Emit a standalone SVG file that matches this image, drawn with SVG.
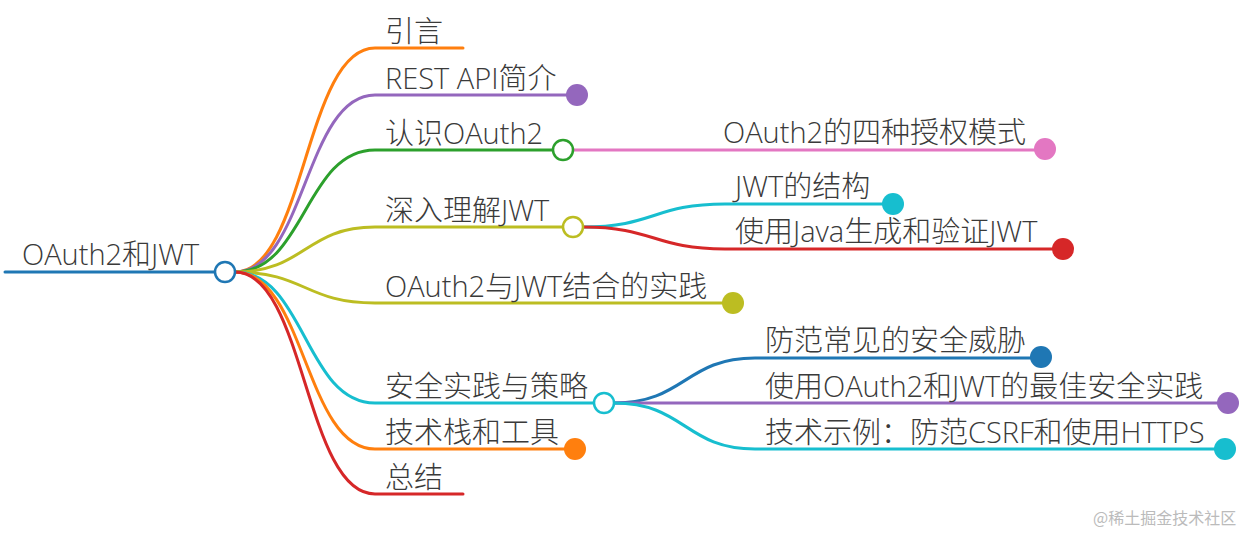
<svg xmlns="http://www.w3.org/2000/svg" width="1259" height="534" viewBox="0 0 1259 534">
<style>
.t{font-family:"Open Sans","Noto Sans CJK SC Light","Noto Sans CJK SC","Noto Sans",sans-serif;font-size:29px;font-weight:300;fill:#3a3a3a}
.c{fill:none;stroke-width:3;stroke-linecap:round}
.o{fill:#fff;stroke-width:2.5}
.wm{font-family:"Noto Sans CJK SC",sans-serif;font-size:16px;fill:#bbb}
</style>
<rect width="1259" height="534" fill="#fff"/>
<g id="connectors">
<path class="c" stroke="#1f77b4" d="M5,272 L215,272"/>
<path class="c" stroke="#ff7f0e" d="M235,272 C305,272 305,48 375,48 L463,48"/>
<path class="c" stroke="#9467bd" d="M235,272 C305,272 305,95 375,95 L577,95"/>
<path class="c" stroke="#2ca02c" d="M235,272 C305,272 305,150 375,150 L553,150"/>
<path class="c" stroke="#bcbd22" d="M235,272 C305,272 305,227 375,227 L563,227"/>
<path class="c" stroke="#bcbd22" d="M235,272 C305,272 305,303 375,303 L733,303"/>
<path class="c" stroke="#17becf" d="M235,272 C305,272 305,403 375,403 L594,403"/>
<path class="c" stroke="#ff7f0e" d="M235,272 C305,272 305,449 375,449 L575,449"/>
<path class="c" stroke="#d62728" d="M235,272 C305,272 305,494 375,494 L463,494"/>
<path class="c" stroke="#e377c2" d="M574,150 L1045,150"/>
<path class="c" stroke="#17becf" d="M583,227 C654,227 654,204 725,204 L893,204"/>
<path class="c" stroke="#d62728" d="M583,227 C654,227 654,249 725,249 L1063,249"/>
<path class="c" stroke="#1f77b4" d="M614,403 C685,403 685,358 755,358 L1041,358"/>
<path class="c" stroke="#9467bd" d="M614,403 L1228,403"/>
<path class="c" stroke="#17becf" d="M614,403 C685,403 685,449 755,449 L1225,449"/>
</g>
<g id="root"><text class="t" x="22" y="265">OAuth2和JWT</text><circle class="o" cx="225" cy="272" r="10" stroke="#1f77b4"/></g>
<g id="n1"><text class="t" x="385" y="42">引言</text></g>
<g id="n2"><text class="t" x="385" y="89">REST API简介</text><circle cx="577" cy="95" r="11" fill="#9467bd"/></g>
<g id="n3"><text class="t" x="385" y="144">认识OAuth2</text><circle class="o" cx="563" cy="150" r="10" stroke="#2ca02c"/></g>
<g id="n3a"><text class="t" x="723" y="143">OAuth2的四种授权模式</text><circle cx="1045" cy="149" r="11" fill="#e377c2"/></g>
<g id="n4"><text class="t" x="385" y="221">深入理解JWT</text><circle class="o" cx="573" cy="227" r="10" stroke="#bcbd22"/></g>
<g id="n4a"><text class="t" x="735" y="197">JWT的结构</text><circle cx="893" cy="204" r="11" fill="#17becf"/></g>
<g id="n4b"><text class="t" x="735" y="242">使用Java生成和验证JWT</text><circle cx="1063" cy="249" r="11" fill="#d62728"/></g>
<g id="n5"><text class="t" x="385" y="297">OAuth2与JWT结合的实践</text><circle cx="733" cy="303" r="11" fill="#bcbd22"/></g>
<g id="n6"><text class="t" x="385" y="397">安全实践与策略</text><circle class="o" cx="604" cy="403" r="10" stroke="#17becf"/></g>
<g id="n6a"><text class="t" x="765" y="351">防范常见的安全威胁</text><circle cx="1041" cy="357" r="11" fill="#1f77b4"/></g>
<g id="n6b"><text class="t" x="765" y="397">使用OAuth2和JWT的最佳安全实践</text><circle cx="1228" cy="403" r="11" fill="#9467bd"/></g>
<g id="n6c"><text class="t" x="765" y="443">技术示例：防范CSRF和使用HTTPS</text><circle cx="1225" cy="449" r="11" fill="#17becf"/></g>
<g id="n7"><text class="t" x="385" y="443">技术栈和工具</text><circle cx="575" cy="449" r="11" fill="#ff7f0e"/></g>
<g id="n8"><text class="t" x="385" y="488">总结</text></g>
<text class="wm" x="1093" y="524">@稀土掘金技术社区</text>
</svg>
